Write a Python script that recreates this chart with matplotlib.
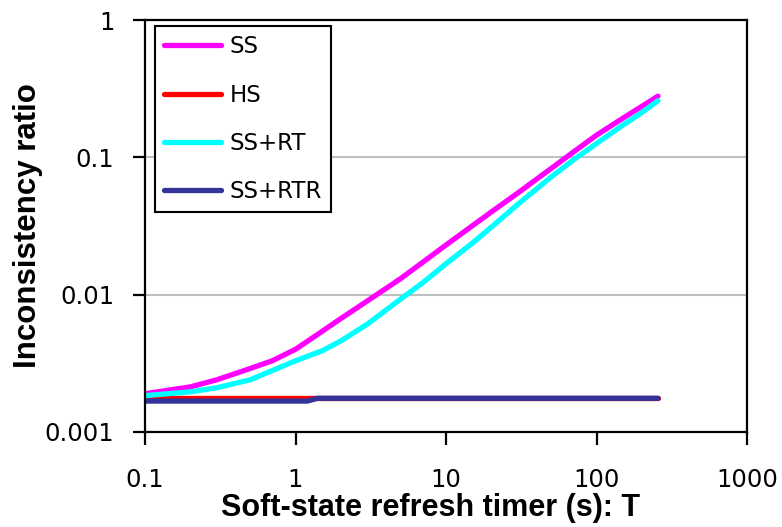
import matplotlib
matplotlib.use("Agg")
import matplotlib.pyplot as plt
from matplotlib.ticker import FixedLocator, FixedFormatter, NullLocator

# ---- data ----
T = [0.1, 0.2, 0.3, 0.5, 0.7, 1, 1.5, 2, 3, 5, 7, 10, 15, 20, 30, 50, 70, 100, 150, 200, 256]
ss = [0.0019, 0.00213, 0.0024, 0.0029, 0.0033, 0.0040, 0.0054, 0.0067, 0.0090, 0.0131,
      0.0172, 0.023, 0.0318, 0.040, 0.055, 0.083, 0.109, 0.145, 0.193, 0.235, 0.279]
ss_rt = [0.00184, 0.00196, 0.0021, 0.0024, 0.0028, 0.0033, 0.0039, 0.0046, 0.0061, 0.0093,
         0.0122, 0.0168, 0.0238, 0.031, 0.0455, 0.072, 0.0955, 0.126, 0.172, 0.212, 0.258]
T_hs = [0.1, 256]
hs = [0.00177, 0.00177]
T_rtr = [0.1, 1.2, 1.4, 256]
ss_rtr = [0.00168, 0.00168, 0.00176, 0.00176]

xticks = [0.1, 1, 10, 100, 1000]
xtick_labels = ["0.1", "1", "10", "100", "1000"]
yticks = [0.001, 0.01, 0.1, 1]
ytick_labels = ["0.001", "0.01", "0.1", "1"]

fig = plt.figure(figsize=(7.82, 5.27), dpi=100)
ax = fig.add_axes([145/782, 1-432/527, (747-145)/782, (432-20)/527])

lw = 3.8
ax.plot(T, ss, color="#FF00FF", lw=lw, label="SS", solid_capstyle="round")
ax.plot(T_hs, hs, color="#FF0000", lw=lw, label="HS", solid_capstyle="round")
ax.plot(T, ss_rt, color="#00FFFF", lw=lw, label="SS+RT", solid_capstyle="round")
ax.plot(T_rtr, ss_rtr, color="#333399", lw=lw, label="SS+RTR", solid_capstyle="round")

ax.set_xscale("log")
ax.set_yscale("log")
ax.set_xlim(0.1, 1000)
ax.set_ylim(0.001, 1)

ax.xaxis.set_major_locator(FixedLocator(xticks))
ax.xaxis.set_major_formatter(FixedFormatter(xtick_labels))
ax.xaxis.set_minor_locator(NullLocator())
ax.yaxis.set_major_locator(FixedLocator(yticks))
ax.yaxis.set_major_formatter(FixedFormatter(ytick_labels))
ax.yaxis.set_minor_locator(NullLocator())

ax.yaxis.grid(True, color="#c0c0c0", lw=1.5)
ax.set_axisbelow(True)

for s in ax.spines.values():
    s.set_linewidth(1.6)
    s.set_color("black")

ax.tick_params(axis="x", direction="out", length=9, width=1.6, pad=17)
ax.tick_params(axis="y", direction="out", length=9, width=1.6, pad=13)
for lab in ax.get_xticklabels() + ax.get_yticklabels():
    lab.set_fontfamily("DejaVu Sans")
    lab.set_fontsize(17.5)

ax.set_xlabel("Soft-state refresh timer (s): T", fontfamily="Liberation Sans",
              fontweight="bold", fontsize=22)
ax.xaxis.set_label_coords(0.475, -0.148)
ax.set_ylabel("Inconsistency ratio", fontfamily="Liberation Sans",
              fontweight="bold", fontsize=22.5)
ax.yaxis.set_label_coords(-0.17, 0.5)

leg = ax.legend(loc="upper left", bbox_to_anchor=(0.0166, 0.985), borderaxespad=0,
                prop=dict(family="DejaVu Sans", size=16.5), handlelength=2.5,
                labelspacing=1.1, handletextpad=0.35, borderpad=0.4,
                fancybox=False, framealpha=1, edgecolor="black")
leg.get_frame().set_linewidth(1.5)

fig.savefig("out.png", dpi=100)
